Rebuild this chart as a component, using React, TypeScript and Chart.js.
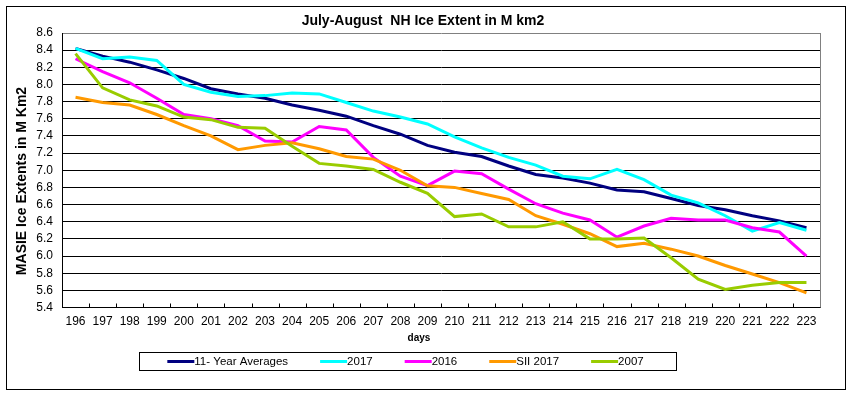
import React, { useEffect, useRef } from "react";
import { Chart, registerables } from "chart.js";

Chart.register(...registerables);

const days = [196, 197, 198, 199, 200, 201, 202, 203, 204, 205, 206, 207, 208, 209, 210, 211, 212, 213, 214, 215, 216, 217, 218, 219, 220, 221, 222, 223];

const avg11 = [8.42, 8.33, 8.26, 8.17, 8.07, 7.95, 7.89, 7.84, 7.76, 7.70, 7.63, 7.52, 7.42, 7.29, 7.21, 7.16, 7.05, 6.95, 6.91, 6.85, 6.77, 6.75, 6.67, 6.59, 6.54, 6.47, 6.41, 6.33];
const y2017 = [8.42, 8.30, 8.32, 8.28, 8.00, 7.91, 7.86, 7.87, 7.90, 7.89, 7.79, 7.69, 7.62, 7.54, 7.39, 7.26, 7.15, 7.06, 6.93, 6.90, 7.01, 6.89, 6.71, 6.62, 6.47, 6.29, 6.39, 6.30];
const y2016 = [8.30, 8.15, 8.02, 7.84, 7.65, 7.60, 7.52, 7.34, 7.33, 7.51, 7.47, 7.15, 6.93, 6.82, 6.99, 6.96, 6.78, 6.61, 6.50, 6.42, 6.22, 6.35, 6.44, 6.42, 6.42, 6.33, 6.28, 6.00];
const sii2017 = [7.85, 7.79, 7.76, 7.65, 7.52, 7.40, 7.24, 7.29, 7.32, 7.25, 7.16, 7.13, 7.00, 6.82, 6.80, 6.73, 6.66, 6.47, 6.37, 6.26, 6.11, 6.15, 6.08, 6.00, 5.89, 5.79, 5.69, 5.57];
const y2007 = [8.36, 7.96, 7.82, 7.75, 7.62, 7.59, 7.50, 7.49, 7.28, 7.08, 7.05, 7.01, 6.86, 6.73, 6.46, 6.49, 6.34, 6.34, 6.40, 6.20, 6.20, 6.21, 5.98, 5.73, 5.61, 5.66, 5.69, 5.69];

const seriesNames = ["11- Year Averages", "2017", "2016", "SII 2017", "2007"];
const seriesColors = ["#000080", "#00FFFF", "#FF00FF", "#FF9900", "#99CC00"];

const titleText = "July-August  NH Ice Extent in M km2";
const yTitleText = "MASIE Ice Extents in M Km2";
const xTitleText = "days";

const yMin = 5.4;
const yMax = 8.6;
const yStep = 0.2;

const FONT = "'Liberation Sans', Arial, sans-serif";

export default function App() {
  const ref = useRef<HTMLCanvasElement | null>(null);

  useEffect(() => {
    document.body.style.margin = "0";
    const canvas = ref.current;
    if (!canvas) return;

    const decor = {
      id: "decor",
      beforeDraw(chart: any) {
        const c = chart.ctx;
        c.save();
        c.fillStyle = "#ffffff";
        c.fillRect(0, 0, chart.width, chart.height);
        c.restore();
      },
      afterDraw(chart: any) {
        const c = chart.ctx;
        const a = chart.chartArea;
        c.save();
        c.strokeStyle = "#000";
        c.lineWidth = 1;
        c.strokeRect(6.5, 6.5, 839, 383);
        c.strokeStyle = "#808080";
        c.beginPath();
        c.moveTo(Math.round(a.right) + 0.5, a.top);
        c.lineTo(Math.round(a.right) + 0.5, a.bottom);
        c.stroke();
        c.strokeStyle = "#000";
        const n = days.length;
        const w = (a.right - a.left) / n;
        c.beginPath();
        for (let i = 1; i < n; i++) {
          const x = Math.round(a.left + i * w) + 0.5;
          c.moveTo(x, a.bottom - 4);
          c.lineTo(x, a.bottom);
        }
        c.stroke();
        c.fillStyle = "#000";
        c.textAlign = "center";
        c.textBaseline = "middle";
        c.font = `bold 14px ${FONT}`;
        c.fillText(titleText, 423, 21);
        c.font = `bold 10px ${FONT}`;
        c.fillText(xTitleText, 419, 338);
        c.save();
        c.translate(22.5, 181);
        c.rotate(-Math.PI / 2);
        c.font = `bold 14px ${FONT}`;
        c.fillText(yTitleText, 0, 0);
        c.restore();
        const bx = 139.5, by = 352.5, bw = 537, bh = 18;
        c.strokeStyle = "#000";
        c.lineWidth = 1;
        c.strokeRect(bx, by, bw, bh);
        c.font = `11.5px ${FONT}`;
        c.textAlign = "left";
        const lineLen = 27;
        const gap = 32;
        const widths = seriesNames.map((s) => c.measureText(s).width);
        const total = widths.reduce((s, v) => s + v + lineLen, 0) + gap * (seriesNames.length - 1);
        let x = bx + bw / 2 - 2.5 - total / 2;
        const cy = by + bh / 2;
        seriesNames.forEach((name, i) => {
          c.strokeStyle = seriesColors[i];
          c.lineWidth = 3;
          c.beginPath();
          c.moveTo(x, cy);
          c.lineTo(x + lineLen, cy);
          c.stroke();
          c.fillStyle = "#000";
          c.fillText(name, x + lineLen, cy + 0.5);
          x += lineLen + widths[i] + gap;
        });
        c.restore();
      },
    };

    const seriesData = [avg11, y2017, y2016, sii2017, y2007];

    const chart = new Chart(canvas, {
      type: "line",
      data: {
        labels: days.map(String),
        datasets: seriesData.map((d, i) => ({
          label: seriesNames[i],
          data: d,
          borderColor: seriesColors[i],
          backgroundColor: seriesColors[i],
          borderWidth: 3,
          pointRadius: 0,
          tension: 0,
          fill: false,
          order: seriesData.length - i,
        })),
      },
      options: {
        animation: false,
        responsive: false,
        maintainAspectRatio: false,
        layout: { padding: { left: 0, right: 34, top: 33, bottom: 49.5 } },
        plugins: {
          legend: { display: false },
          title: { display: false },
          tooltip: { enabled: false },
        },
        scales: {
          x: {
            type: "category",
            offset: true,
            grid: { display: false, drawTicks: false },
            border: { display: true, color: "#000", width: 1 },
            ticks: {
              color: "#000",
              font: { family: FONT, size: 12 },
              padding: 7,
              maxRotation: 0,
              autoSkip: false,
            },
            afterFit: (s: any) => {
              s.height = 37;
            },
          },
          y: {
            min: yMin,
            max: yMax,
            grid: {
              color: (ctx: any) =>
                ctx.tick && Math.abs(ctx.tick.value - yMax) < 1e-6 ? "#808080" : "#000",
              lineWidth: 1,
              drawTicks: false,
            },
            border: { display: true, color: "#000", width: 1 },
            ticks: {
              stepSize: yStep,
              autoSkip: false,
              color: "#000",
              font: { family: FONT, size: 12 },
              padding: 9,
              callback: (v: any) => Number(v).toFixed(1),
            },
            afterFit: (s: any) => {
              s.width = 62;
            },
          },
        },
      },
      plugins: [decor],
    });

    return () => chart.destroy();
  }, []);

  return (
    <div style={{ position: "fixed", left: 0, top: 0, width: 854, height: 394, background: "#fff" }}>
      <canvas ref={ref} width={854} height={394} style={{ width: 854, height: 394, display: "block" }} />
    </div>
  );
}
